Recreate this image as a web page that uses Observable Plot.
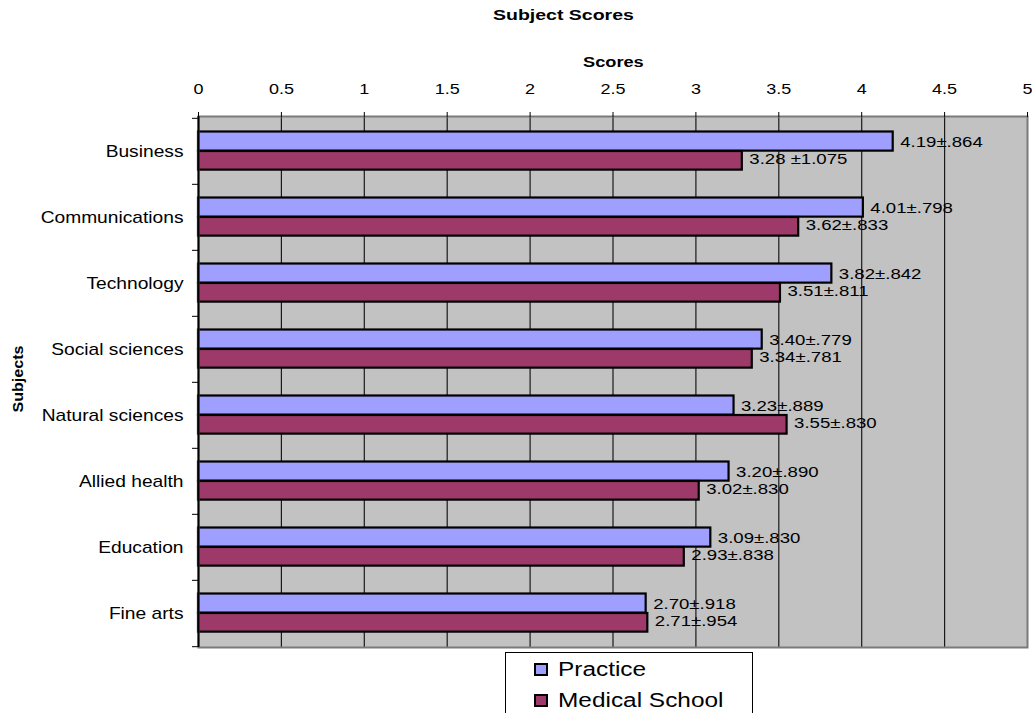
<!DOCTYPE html>
<html>
<head>
<meta charset="utf-8">
<script src="https://cdn.jsdelivr.net/npm/d3@7"></script>
<script src="https://cdn.jsdelivr.net/npm/@observablehq/plot@0.6"></script>
<style>
  html, body { margin: 0; padding: 0; background: #fff; }
  body { font-family: Arial, "Liberation Sans", sans-serif; color: #000; }
  #wrap { position: relative; width: 1032px; height: 713px; overflow: hidden; }
  #chart { position: absolute; left: 0; top: 0; }
  .txt { position: absolute; white-space: nowrap; transform-origin: left center; }
  #title { left: 493px; top: 6px; font-weight: bold; font-size: 15px; line-height: 18px; transform: scaleX(1.3); }
  #xlab { left: 583px; top: 53px; font-weight: bold; font-size: 14px; line-height: 18px; transform: scaleX(1.3); }
  #ylab { left: 18px; top: 379px; font-weight: bold; font-size: 14px; line-height: 16px;
          transform-origin: 0 0; transform: rotate(-90deg) scaleX(1.15) translate(-50%, -50%); }
  #legend { position: absolute; left: 505px; top: 652px; width: 246px; height: 80px;
            border: 1px solid #000; background: #fff; }
  .item { position: absolute; left: 28px; height: 24px; }
  .sw { position: absolute; left: 0; top: 6px; width: 10px; height: 9px; border: 2px solid #000; }
  .lt { position: absolute; left: 24px; top: 0; font-size: 20px; line-height: 24px; white-space: nowrap;
        transform-origin: left center; transform: scaleX(1.22); }
</style>
</head>
<body>
<div id="wrap">
  <div id="chart"></div>
  <div id="title" class="txt">Subject Scores</div>
  <div id="xlab" class="txt">Scores</div>
  <div id="ylab" class="txt">Subjects</div>
  <div id="legend"></div>
</div>
<script>
// ---- data ----
const subjects = ["Business", "Communications", "Technology", "Social sciences",
                  "Natural sciences", "Allied health", "Education", "Fine arts"];
const seriesNames = ["Practice", "Medical School"];
const practiceValues = [4.19, 4.01, 3.82, 3.40, 3.23, 3.20, 3.09, 2.70];
const practiceLabels = ["4.19±.864", "4.01±.798", "3.82±.842", "3.40±.779",
                        "3.23±.889", "3.20±.890", "3.09±.830", "2.70±.918"];
const medicalValues = [3.28, 3.62, 3.51, 3.34, 3.55, 3.02, 2.93, 2.71];
const medicalLabels = ["3.28 ±1.075", "3.62±.833", "3.51±.811", "3.34±.781",
                       "3.55±.830", "3.02±.830", "2.93±.838", "2.71±.954"];
const xTicks = [0, 0.5, 1, 1.5, 2, 2.5, 3, 3.5, 4, 4.5, 5];
const seriesColors = ["#9f9fff", "#9e3a6a"];

// ---- tables ----
const practice = subjects.map((s, i) => ({subject: s, value: practiceValues[i], label: practiceLabels[i]}));
const medical = subjects.map((s, i) => ({subject: s, value: medicalValues[i], label: medicalLabels[i]}));

const W = 1032, H = 713, mT = 116, mB = 66, mL = 198, mR = 5;
const bw = (H - mT - mB) / subjects.length;

const chart = Plot.plot({
  width: W,
  height: H,
  marginTop: mT,
  marginBottom: mB,
  marginLeft: mL,
  marginRight: mR,
  style: {fontFamily: "Arial, 'Liberation Sans', sans-serif", fontSize: "15px", background: "transparent", color: "#000"},
  x: {domain: [0, 5], axis: null},
  y: {type: "band", domain: subjects, padding: 0, axis: null},
  marks: [
    Plot.frame({fill: "#c2c2c2"}),
    Plot.ruleX(xTicks.slice(1, -1), {stroke: "#1a1a1a", strokeWidth: 1.2}),
    Plot.barX(practice, {x: "value", y: "subject", fill: seriesColors[0], stroke: "#000", strokeWidth: 2.2,
                         insetTop: 13.5, insetBottom: bw - 33}),
    Plot.barX(medical, {x: "value", y: "subject", fill: seriesColors[1], stroke: "#000", strokeWidth: 2.2,
                        insetTop: 33, insetBottom: bw - 52}),
    Plot.text(practice, {x: "value", y: "subject", text: "label", textAnchor: "start", dx: 7, dy: -9.5, fill: "#000", fontSize: 15.5}),
    Plot.text(medical, {x: "value", y: "subject", text: "label", textAnchor: "start", dx: 7, dy: 7.5, fill: "#000", fontSize: 15.5}),
    Plot.frame({stroke: "#7a7a7a", strokeWidth: 2}),
    Plot.ruleX([0], {stroke: "#000", strokeWidth: 2}),
    Plot.axisX(xTicks, {anchor: "top", tickSize: 5, tickPadding: 18, tickFormat: d => String(d), label: null, fontSize: 15}),
    Plot.axisY({anchor: "left", tickSize: 0, tickPadding: 15, label: null, fontSize: 16}),
    Plot.axisY({anchor: "left", tickSize: 6, text: null, label: null, dy: -bw / 2}),
    Plot.axisY([subjects[subjects.length - 1]], {anchor: "left", tickSize: 6, text: null, label: null, dy: bw / 2})
  ]
});

document.getElementById("chart").appendChild(chart);

// horizontally widen the SVG texts about their anchor point, as in the original raster
function stretch(root, sx) {
  root.querySelectorAll("text").forEach(t => {
    let x = 0, y = 0;
    try {
      if (t.x && t.x.baseVal && t.x.baseVal.numberOfItems > 0) x = t.x.baseVal.getItem(0).value;
      if (t.y && t.y.baseVal && t.y.baseVal.numberOfItems > 0) y = t.y.baseVal.getItem(0).value;
    } catch (e) { x = 0; y = 0; }
    let m = new DOMMatrix();
    const list = t.transform && t.transform.baseVal;
    if (list && list.numberOfItems > 0) {
      const c = list.consolidate();
      if (c) {
        const k = c.matrix;
        m = new DOMMatrix([k.a, k.b, k.c, k.d, k.e, k.f]);
      }
    }
    m = m.translate(x, y).scale(sx, 1, 1);
    t.removeAttribute("x");
    t.removeAttribute("y");
    t.setAttribute("transform", `matrix(${m.a},${m.b},${m.c},${m.d},${m.e},${m.f})`);
  });
}
stretch(chart, 1.2);

// legend
const legend = document.getElementById("legend");
const itemCenters = [16, 47];
seriesNames.forEach((name, i) => {
  const it = document.createElement("div");
  it.className = "item";
  it.style.top = (itemCenters[i] - 12) + "px";
  const sw = document.createElement("div");
  sw.className = "sw";
  sw.style.background = seriesColors[i];
  const lt = document.createElement("div");
  lt.className = "lt";
  lt.textContent = name;
  it.appendChild(sw); it.appendChild(lt);
  legend.appendChild(it);
});
</script>
</body>
</html>
